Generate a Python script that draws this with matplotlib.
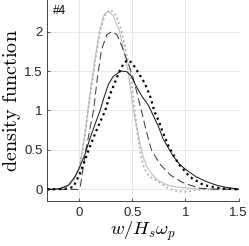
import numpy as np
import matplotlib
matplotlib.use("Agg")
import matplotlib.pyplot as plt

plt.rcParams['mathtext.fontset'] = 'cm'
plt.rcParams['font.family'] = ['Liberation Sans', 'DejaVu Sans']

# light grey solid
gs_x = [-0.3, -0.2, -0.15, -0.1, -0.05, 0.0, 0.05, 0.1, 0.15, 0.19, 0.23, 0.275, 0.32, 0.38, 0.43, 0.46,
        0.51, 0.54, 0.57, 0.60, 0.64, 0.68, 0.72, 0.76, 0.84, 0.92, 1.04, 1.2, 1.5]
gs_y = [0, 0.005, 0.02, 0.05, 0.12, 0.25, 0.65, 1.2, 1.66, 2.0, 2.2, 2.26, 2.2, 2.0, 1.7, 1.5,
        1.0, 0.8, 0.6, 0.42, 0.28, 0.2, 0.14, 0.1, 0.05, 0.03, 0.015, 0.005, 0]

# light grey dotted
gd_x = [-0.3, -0.2, -0.15, -0.1, -0.05, 0.0, 0.05, 0.1, 0.15, 0.2, 0.25, 0.30, 0.35, 0.40, 0.44, 0.48,
        0.51, 0.54, 0.558, 0.58, 0.61, 0.64, 0.68, 0.73, 0.78, 0.82, 0.87, 0.92, 0.97, 1.01, 1.06, 1.1, 1.2, 1.5]
gd_y = [0, 0.005, 0.02, 0.05, 0.12, 0.27, 0.66, 1.15, 1.62, 2.02, 2.24, 2.27, 2.2, 2.0, 1.75, 1.5,
        1.15, 0.8, 0.62, 0.42, 0.28, 0.2, 0.15, 0.11, 0.07, 0.03, 0.0, -0.02, -0.03, -0.03, -0.02, -0.01, 0, 0]

# black dashed
kd_x = [-0.3, -0.1, 0.0, 0.01, 0.063, 0.135, 0.17, 0.21, 0.26, 0.307, 0.355, 0.40, 0.46, 0.5, 0.545,
        0.585, 0.635, 0.68, 0.76, 0.86, 0.97, 1.04, 1.14, 1.25, 1.5]
kd_y = [0, 0, 0, 0.03, 0.5, 1.0, 1.4, 1.77, 1.96, 2.0, 1.96, 1.82, 1.6, 1.45, 1.22,
        1.0, 0.72, 0.5, 0.32, 0.18, 0.09, 0.055, 0.015, 0.003, 0]

# black solid
ks_x = [-0.3, -0.2, -0.18, -0.1, -0.04, 0.007, 0.056, 0.10, 0.148, 0.197, 0.23, 0.275, 0.32, 0.37, 0.40,
        0.45, 0.495, 0.51, 0.54, 0.59, 0.65, 0.745, 0.79, 0.885, 0.95, 1.01, 1.1, 1.2, 1.3, 1.385, 1.5]
ks_y = [0, 0.005, 0.01, 0.055, 0.16, 0.29, 0.45, 0.64, 0.82, 1.0, 1.15, 1.33, 1.43, 1.48, 1.5,
        1.49, 1.43, 1.38, 1.3, 1.18, 1.07, 0.8, 0.64, 0.42, 0.31, 0.245, 0.16, 0.097, 0.05, 0.025, 0.005]

# black dotted
kp_x = [-0.3, -0.2, -0.12, -0.055, 0.007, 0.054, 0.10, 0.16, 0.245, 0.29, 0.35, 0.38, 0.42, 0.46, 0.5,
        0.57, 0.62, 0.67, 0.71, 0.745, 0.78, 0.84, 0.92, 0.95, 1.04, 1.17, 1.33, 1.5]
kp_y = [0, 0.003, 0.01, 0.03, 0.2, 0.37, 0.54, 0.74, 1.0, 1.2, 1.4, 1.5, 1.6, 1.64, 1.6,
        1.45, 1.34, 1.17, 0.98, 0.88, 0.75, 0.55, 0.36, 0.3, 0.16, 0.055, 0.013, 0]

xticks = [0, 0.5, 1, 1.5]
yticks = [0, 0.5, 1, 1.5, 2]

fig = plt.figure(figsize=(2.49, 2.46), dpi=100)
ax = fig.add_axes([0.190, 0.183, 0.768, 0.817])

ax.plot(gs_x, gs_y, color='#c4c4c4', lw=0.9)
ax.plot(gd_x, gd_y, color='#b0b0b0', lw=1.3, linestyle=(0, (1, 1.6)))
ax.plot(kd_x, kd_y, color='#333333', lw=0.7, linestyle=(0, (8, 4)))
ax.plot(ks_x, ks_y, color='#111111', lw=0.7)
ax.plot(kp_x, kp_y, color='black', lw=1.6, linestyle=(0, (1, 1.6)))

ax.set_xlim(-0.3, 1.5)
ax.set_ylim(-0.147, 2.4)
ax.set_xticks(xticks)
ax.set_xticklabels(['0', '0.5', '1', '1.5'])
ax.set_yticks(yticks)
ax.set_yticklabels(['0', '0.5', '1', '1.5', '2'])
ax.tick_params(direction='in', length=2, width=0.5, labelsize=9.5, colors='#262626')
ax.tick_params(axis='x', pad=4.5)
ax.tick_params(axis='y', pad=3.5)
ax.grid(True, color='#e4e4e4', lw=0.6)
ax.set_axisbelow(True)
for s in ['top', 'right']:
    ax.spines[s].set_visible(False)
for s in ['left', 'bottom']:
    ax.spines[s].set_linewidth(0.6)
    ax.spines[s].set_color('#262626')

ax.set_xlabel(r'$w/H_s\omega_p$', fontsize=13.5, labelpad=0)
ax.set_ylabel(r'$\mathrm{density\ function}$', fontsize=14.5, labelpad=1)
ax.text(0.03, 0.975, '#4', transform=ax.transAxes, fontsize=8.5, va='top', ha='left')

fig.savefig('out.png', dpi=100)
